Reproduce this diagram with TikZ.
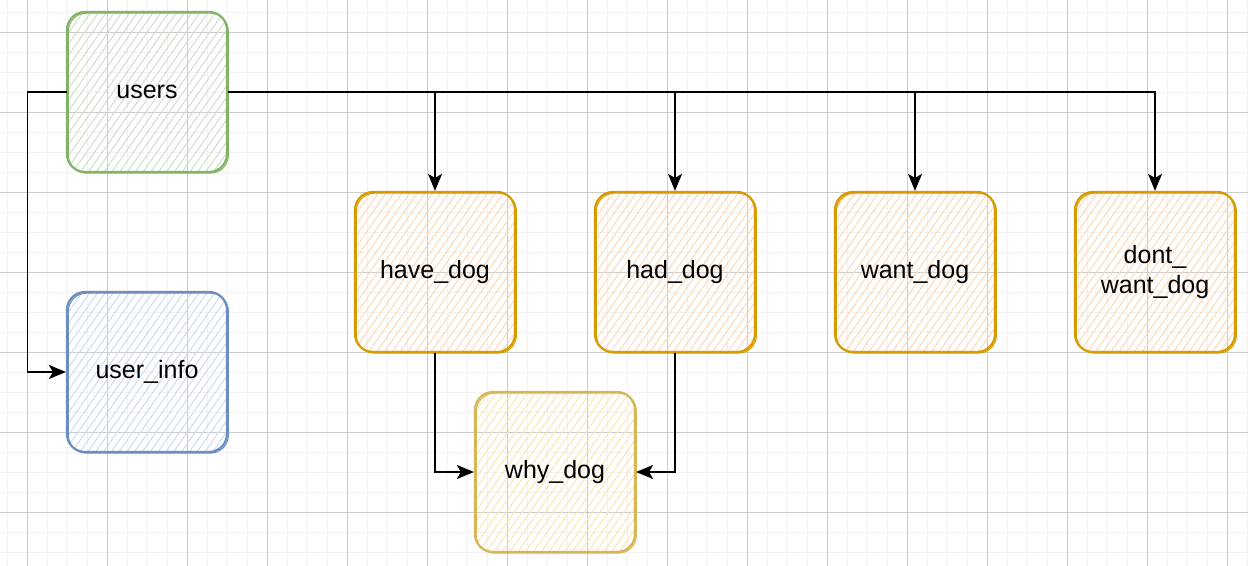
\documentclass[tikz,border=0pt]{standalone}
\usepackage{fontspec}
\setmainfont{Liberation Sans}
\usepackage{xcolor}
\usepackage{tikz}
\usetikzlibrary{arrows.meta,positioning,calc,patterns.meta}
\definecolor{usergreen}{RGB}{130,179,102}
\definecolor{usergreenlt}{RGB}{200,224,196}
\definecolor{infoblue}{RGB}{108,142,191}
\definecolor{infobluelt}{RGB}{200,218,248}
\definecolor{dogorange}{RGB}{215,155,0}
\definecolor{dogorangelt}{RGB}{255,214,180}
\definecolor{whyyellow}{RGB}{214,182,86}
\definecolor{whyyellowlt}{RGB}{252,230,176}
\tikzset{
  gridminor/.style={draw=black!5, line width=0.5pt},
  gridmajor/.style={draw=black!20, line width=0.5pt},
  tbl/.style={rectangle, rounded corners=9pt, line width=1.1pt, minimum width=80pt, minimum height=80pt, inner sep=2pt, align=center, font=\fontsize{12.5}{15}\selectfont,
    postaction={draw, line width=0.5pt, transform canvas={xshift=0.7pt, yshift=-0.6pt}}}, % second sketch stroke
  hatch/.style={pattern={Lines[angle=55,distance=3.2pt,line width=0.5pt]}, pattern color=#1}, % sketchy fill
  link/.style={-{Stealth[length=8.5pt,width=7pt,inset=2pt]}, line width=0.9pt, draw=black}
}

\begin{document}
\begin{tikzpicture}[x=0.5pt, y=-0.5pt]
  \useasboundingbox (0,0) rectangle (1248,566);
  % background grid
  \foreach \gx in {7,27,...,1247} \draw[gridminor] (\gx,0) -- (\gx,566);
  \foreach \gy in {13,33,...,553} \draw[gridminor] (0,\gy) -- (1248,\gy);
  \foreach \gx in {27,107,...,1227} \draw[gridmajor] (\gx,0) -- (\gx,566);
  \foreach \gy in {33,113,...,513} \draw[gridmajor] (0,\gy) -- (1248,\gy);

  % Tables
  \node[tbl, draw=usergreen, hatch=usergreenlt] (users) at (147,92) {users};
  \node[tbl, draw=infoblue, hatch=infobluelt] (info) at (147,372) {user\_info};
  \node[tbl, draw=dogorange, hatch=dogorangelt] (have) at (435,272) {have\_dog};
  \node[tbl, draw=dogorange, hatch=dogorangelt] (had) at (675,272) {had\_dog};
  \node[tbl, draw=dogorange, hatch=dogorangelt] (want) at (915,272) {want\_dog};
  \node[tbl, draw=dogorange, hatch=dogorangelt] (dont) at (1155,272) {dont\_\\want\_dog};
  \node[tbl, draw=whyyellow, hatch=whyyellowlt] (why) at (555,472) {why\_dog};

  % Links
  \draw[link] (users.east) -| (have.north);
  \draw[link] (users.east) -| (had.north);
  \draw[link] (users.east) -| (want.north);
  \draw[link] (users.east) -| (dont.north);
  \draw[link] (users.west) -- ++(-39,0) |- (info.west);
  \draw[link] (have.south) |- (why.west);
  \draw[link] (had.south) |- (why.east);
\end{tikzpicture}
\end{document}
